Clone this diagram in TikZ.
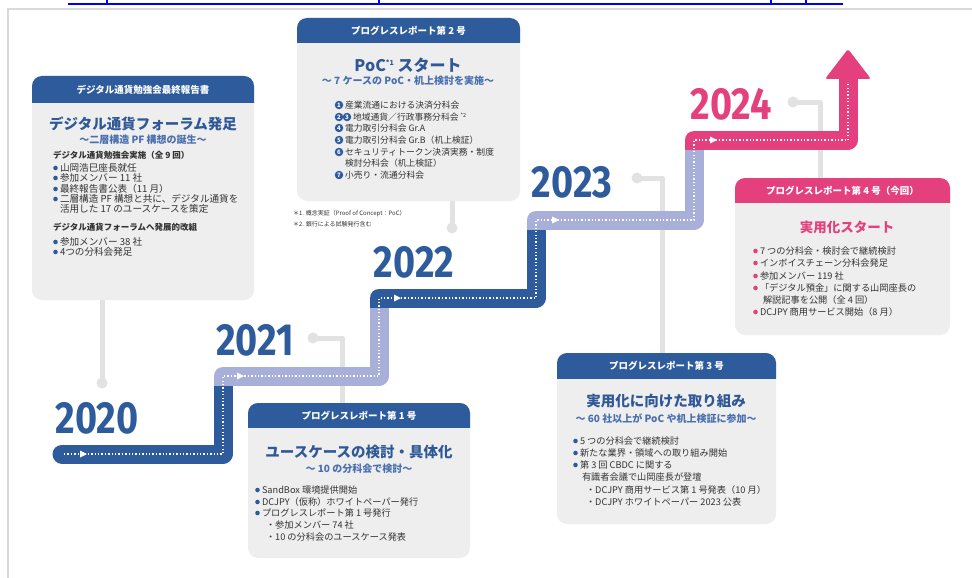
\documentclass[tikz,border=0pt]{standalone}
\usepackage{fontspec}
\usepackage{graphicx}
\setmainfont{Noto Sans CJK JP}
\newfontfamily\yearfont{Fira Sans}
\definecolor{dblue}{HTML}{2D5B9C}
\definecolor{tblue}{HTML}{2F5897}
\definecolor{sblue}{HTML}{4A6FAE}
\definecolor{lpurple}{HTML}{A8AFD8}
\definecolor{pinkc}{HTML}{E4407E}
\definecolor{cardbg}{HTML}{EEEEEE}
\definecolor{lgray}{HTML}{E2E2E2}
\definecolor{txt}{HTML}{333333}
\definecolor{frame}{HTML}{DADADA}
\definecolor{linkblue}{HTML}{0000EE}
\tikzset{
  every node/.style={inner sep=0pt, outer sep=0pt},
  cardbody/.style={fill=cardbg, rounded corners=10pt, anchor=north west},
  hdrtxt/.style={text=white, font=\fontsize{9.5}{11}\selectfont\bfseries},
  ttl/.style={text=tblue, font=\fontsize{14.5}{16}\selectfont\bfseries},
  subttl/.style={text=sblue, font=\fontsize{10}{12}\selectfont\bfseries},
  body/.style={text=txt, font=\fontsize{9.2}{10}\selectfont, anchor=west},
  bodyA/.style={text=txt, font=\fontsize{9.6}{10}\selectfont, anchor=west},
  bodyB/.style={text=txt, font=\fontsize{8.8}{10}\selectfont, anchor=west},
  bhead/.style={text=txt, font=\fontsize{8.5}{10}\selectfont\bfseries, anchor=west},
  foot/.style={text=txt, font=\fontsize{6}{7}\selectfont, anchor=west},
  year/.style={font=\yearfont\bfseries\fontsize{45}{45}\selectfont},
  conn/.style={draw=lgray, line width=5pt, line join=round},
  band/.style={line width=19pt, line join=round},
  dots/.style={draw=white, line width=1.6pt, dash pattern=on 1.3pt off 2.1pt},
  numc/.style={circle, fill=dblue, text=white, font=\fontsize{6}{6}\selectfont\bfseries, minimum size=8.5pt},
}
\newcommand\bitem[6][body]{\fill[#2] (#3-4.5,#4) circle (2.3pt); \node[#1] (#5) at (#3,#4) {#6};}
\newcommand\tri[2]{\fill[white] (#1-3,#2-3.5) -- (#1+4,#2) -- (#1-3,#2+3.5) -- cycle;}
\newcommand\hdr[4]{% name, color, height, text
  \fill[#2, rounded corners=10pt] (#1.north west) rectangle ([yshift=-#3pt-10pt]#1.north east);
  \fill[cardbg] ([yshift=-#3pt]#1.north west) rectangle ([yshift=-#3pt-12pt]#1.north east);
  \node[hdrtxt] (#1h) at ([yshift=-#3pt/2]#1.north) {#4};}
\begin{document}
\begin{tikzpicture}[x=1pt,y=-1pt]
\useasboundingbox (0,0) rectangle (972,578);
\fill[white] (0,0) rectangle (972,578);
% page frame and link fragment
\draw[frame, line width=2pt] (8,578) -- (8,9) -- (972,9);
\draw[linkblue, line width=2pt] (68,4) -- (843,4);
\foreach \xx in {107,379,771,806} \draw[linkblue, line width=1.3pt] (\xx,0) -- (\xx,3);

% cards
\node[cardbody, minimum width=222pt, minimum height=224pt] (cardA) at (32,76) {};
\node[cardbody, minimum width=223pt, minimum height=183pt] (cardB) at (297,18) {};
\node[cardbody, minimum width=222pt, minimum height=155pt] (cardC) at (248,403) {};
\node[cardbody, minimum width=219pt, minimum height=171pt] (cardD) at (557,353) {};
\node[cardbody, minimum width=215pt, minimum height=157pt] (cardE) at (735,178) {};
\hdr{cardA}{dblue}{27}{デジタル通貨勉強会最終報告書}
\hdr{cardB}{dblue}{25}{プログレスレポート第 2 号}
\hdr{cardC}{dblue}{25}{プログレスレポート第 1 号}
\hdr{cardD}{dblue}{26}{プログレスレポート第 3 号}
\hdr{cardE}{pinkc}{25}{プログレスレポート第 4 号（今回）}

% connectors
\coordinate (d1) at (102,383);
\coordinate (d2) at (452,228);
\coordinate (d3) at (313,338); \coordinate (k3) at (342,338);
\coordinate (d4) at (637,178); \coordinate (k4) at (662,178);
\coordinate (d5) at (793,102); \coordinate (k5) at (820,102);
\draw[conn] (d1) -- (d1 |- cardA.south);
\draw[conn] (d2) -- (d2 |- cardB.south);
\draw[conn] (d3) -- (k3) -- (k3 |- cardC.north);
\draw[conn] (d4) -- (k4) -- (k4 |- cardD.north);
\draw[conn] (d5) -- (k5) -- (k5 |- cardE.north);
\foreach \d in {d1,d2,d3,d4,d5} \fill[lgray] (\d) circle (5.5pt);

% staircase
\draw[band, dblue, line cap=round] (62,454) -- (223,454) -- (223,385);
\draw[band, lpurple] (223,385.5) -- (223,376) -- (379,376) -- (379,307.5);
\draw[band, dblue] (379,307.5) -- (379,298) -- (536,298) -- (536,229.5);
\draw[band, lpurple] (536,229.5) -- (536,220) -- (694,220) -- (694,149.5);
\draw[band, pinkc] (694,149.5) -- (694,140) -- (848,140) -- (848,76);
\fill[pinkc, rounded corners=2.5pt] (825,79) -- (848,49) -- (871,79) -- cycle;
\draw[dots] (64,454) -- (223,454) -- (223,376) -- (379,376) -- (379,298) -- (536,298) -- (536,220) -- (694,220) -- (694,140) -- (848,140) -- (848,82);
\tri{83}{454} \tri{240}{376} \tri{397}{298} \tri{555}{220} \tri{713}{140}

% years
\node[year, text=dblue] (y2020) at (97,418) {\scalebox{0.84}[1]{2020}};
\node[year, text=dblue] (y2021) at (255,340) {\scalebox{0.84}[1]{2021}};
\node[year, text=dblue] (y2022) at (414,262) {\scalebox{0.84}[1]{2022}};
\node[year, text=dblue] (y2023) at (572,182) {\scalebox{0.84}[1]{2023}};
\node[year, text=pinkc] (y2024) at (731,104) {\scalebox{0.84}[1]{2024}};

% card A
\node[ttl] (aT) at (143,124) {デジタル通貨フォーラム発足};
\node[subttl] (aS) at (143,140) {〜二層構造 PF 構想の誕生〜};
\node[bhead] (aH1) at (53,155) {デジタル通貨勉強会実施（全 9 回）};
\bitem[bodyA]{dblue}{60}{168}{a1}{山岡浩巳座長就任}
\bitem[bodyA]{dblue}{60}{178}{a2}{参加メンバー 11 社}
\bitem[bodyA]{dblue}{60}{189}{a3}{最終報告書公表（11 月）}
\bitem[bodyA]{dblue}{60}{199}{a4}{二層構造 PF 構想と共に、デジタル通貨を}
\node[bodyA] (a4b) at (60,209) {活用した 17 のユースケースを策定};
\node[bhead] (aH2) at (53,227) {デジタル通貨フォーラムへ発展的改組};
\bitem[bodyA]{dblue}{60}{242}{a5}{参加メンバー 38 社}
\bitem[bodyA]{dblue}{60}{252}{a6}{4つの分科会発足}

% card B
\node[ttl, font=\fontsize{16}{18}\selectfont\bfseries] (bT) at (408,65) {PoC\raisebox{0.7ex}{\fontsize{7}{7}\selectfont *1} スタート};
\node[subttl] (bS) at (408,81) {〜 7 ケースの PoC・机上検討を実施〜};
\node[numc] (n1) at (339,105) {1}; \node[bodyB] (b1) at (345,105) {産業流通における決済分科会};
\node[numc] (n2) at (339,117) {2}; \node[numc] (n3) at (347,117) {3};
\node[bodyB] (b2) at (353,117) {地域通貨／行政事務分科会 \raisebox{0.6ex}{\fontsize{5.5}{6}\selectfont *2}};
\node[numc] (n4) at (339,128) {4}; \node[bodyB] (b4) at (345,128) {電力取引分科会 Gr.A};
\node[numc] (n5) at (339,140) {5}; \node[bodyB] (b5) at (345,140) {電力取引分科会 Gr.B（机上検証）};
\node[numc] (n6) at (339,152) {6}; \node[bodyB] (b6) at (345,152) {セキュリティトークン決済実務・制度};
\node[bodyB] (b6b) at (345,163) {検討分科会（机上検証）};
\node[numc] (n7) at (339,175) {7}; \node[bodyB] (b7) at (345,175) {小売り・流通分科会};
\node[foot] (f1) at (293,214) {＊1. 概念実証（Proof of Concept：PoC）};
\node[foot] (f2) at (293,224) {＊2. 銀行による試験発行含む};

% card C
\node[ttl] (cT) at (359,452) {ユースケースの検討・具体化};
\node[subttl] (cS) at (359,469) {〜 10 の分科会で検討〜};
\bitem{dblue}{262}{490}{c1}{SandBox 環境提供開始}
\bitem{dblue}{262}{502}{c2}{DCJPY（仮称）ホワイトペーパー発行}
\bitem{dblue}{262}{513}{c3}{プログレスレポート第 1 号発行}
\node[body] (c4) at (266,525) {・参加メンバー 74 社};
\node[body] (c5) at (266,537) {・10 の分科会のユースケース発表};

% card D
\node[ttl] (dT) at (666,401) {実用化に向けた取り組み};
\node[subttl] (dS) at (666,419) {〜 60 社以上が PoC や机上検証に参加〜};
\bitem{dblue}{580}{441}{e1}{5 つの分科会で継続検討}
\bitem{dblue}{580}{453}{e2}{新たな業界・領域への取り組み開始}
\bitem{dblue}{580}{465}{e3}{第 3 回 CBDC に関する}
\node[body] (e4) at (582,477) {有識者会議で山岡座長が登壇};
\node[body] (e5) at (586,490) {・DCJPY 商用サービス第 1 号発表（10 月）};
\node[body] (e6) at (586,502) {・DCJPY ホワイトペーパー 2023 公表};

% card E
\node[ttl, text=pinkc, font=\fontsize{13.5}{15}\selectfont\bfseries] (gT) at (847,227) {実用化スタート};
\bitem{pinkc}{760}{251}{g1}{7 つの分科会・検討会で継続検討}
\bitem{pinkc}{760}{263}{g2}{インボイスチェーン分科会発足}
\bitem{pinkc}{760}{276}{g3}{参加メンバー 119 社}
\bitem{pinkc}{760}{288}{g4}{「デジタル預金」に関する山岡座長の}
\node[body] (g5) at (763,300) {解説記事を公開（全 4 回）};
\bitem{pinkc}{760}{312}{g6}{DCJPY 商用サービス開始（8 月）}
\end{tikzpicture}
\end{document}
